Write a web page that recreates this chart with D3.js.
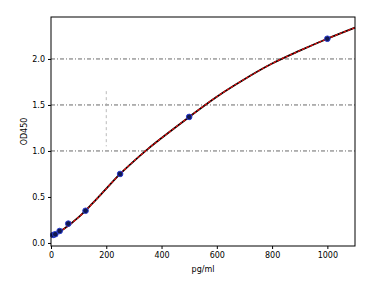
<!DOCTYPE html>
<html>
<head>
<meta charset="utf-8">
<script src="https://cdn.jsdelivr.net/npm/d3@7"></script>
<style>
  body { margin: 0; background: #fff; }
  text { font-family: "DejaVu Sans", sans-serif; }
</style>
</head>
<body>
<div id="chart"></div>
<script>
// standards (pg/ml) and measured OD450
const stdConc = [7.8, 15.6, 31.25, 62.5, 125, 250, 500, 1000];
const stdOD = [0.087, 0.095, 0.13, 0.21, 0.35, 0.75, 1.37, 2.22];

// fitted curve
const fitConc = [0, 50, 100, 150, 200, 250, 300, 350, 400, 500, 600, 700, 800, 900, 1000, 1100];
const fitOD = [0.07, 0.16, 0.28, 0.43, 0.59, 0.75, 0.89, 1.02, 1.14, 1.37, 1.59, 1.78, 1.95, 2.09, 2.22, 2.34];

const xTicks = [0, 200, 400, 600, 800, 1000];
const yTicks = [0.0, 0.5, 1.0, 1.5, 2.0];
const gridTicks = [1.0, 1.5, 2.0];

const width = 389;
const height = 288;
const margin = { top: 17, right: 34, bottom: 42, left: 51 };

const svg = d3.select('#chart')
    .append('svg')
    .attr('width', width)
    .attr('height', height);

const xScale = d3.scaleLinear()
    .domain([0, 1100])
    .range([margin.left, width - margin.right]);

const yScale = d3.scaleLinear()
    .domain([-0.033, 2.456])
    .range([height - margin.bottom, margin.top]);

// dash-dot grid lines
svg.append('g')
    .selectAll('line')
    .data(gridTicks)
    .enter()
    .append('line')
    .attr('x1', margin.left)
    .attr('x2', width - margin.right)
    .attr('y1', d => yScale(d))
    .attr('y2', d => yScale(d))
    .attr('stroke', '#444')
    .attr('stroke-width', 0.8)
    .attr('stroke-dasharray', '4,2,1,2');

// faint vertical mark near x = 200
svg.append('line')
    .attr('x1', xScale(200))
    .attr('x2', xScale(200))
    .attr('y1', yScale(1.65))
    .attr('y2', yScale(1.05))
    .attr('stroke', '#aaa')
    .attr('stroke-width', 0.8)
    .attr('stroke-dasharray', '3,3');

const line = d3.line()
    .x((d, i) => xScale(fitConc[i]))
    .y(d => yScale(d))
    .curve(d3.curveCatmullRom);

svg.append('path')
    .datum(fitOD)
    .attr('d', line)
    .attr('fill', 'none')
    .attr('stroke', '#000')
    .attr('stroke-width', 1.8);

svg.append('path')
    .datum(fitOD)
    .attr('d', line)
    .attr('fill', 'none')
    .attr('stroke', '#e01010')
    .attr('stroke-width', 1.3)
    .attr('stroke-dasharray', '3,1.5');

svg.append('g')
    .selectAll('circle')
    .data(stdOD)
    .enter()
    .append('circle')
    .attr('cx', (d, i) => xScale(stdConc[i]))
    .attr('cy', d => yScale(d))
    .attr('r', 2.8)
    .attr('fill', '#101850')
    .attr('stroke', '#2a3cd0')
    .attr('stroke-width', 1);

// axes
const xAxis = d3.axisBottom(xScale)
    .tickValues(xTicks)
    .tickSize(3)
    .tickFormat(d3.format('d'));
const yAxis = d3.axisLeft(yScale)
    .tickValues(yTicks)
    .tickSize(3)
    .tickFormat(d3.format('.1f'));

const gx = svg.append('g')
    .attr('transform', 'translate(0,' + (height - margin.bottom) + ')')
    .call(xAxis);
const gy = svg.append('g')
    .attr('transform', 'translate(' + margin.left + ',0)')
    .call(yAxis);

[gx, gy].forEach(g => {
    g.select('.domain').remove();
    g.selectAll('text').attr('font-size', 8).attr('fill', '#000')
        .style('font-family', '"DejaVu Sans", sans-serif');
});

// frame
svg.append('rect')
    .attr('x', margin.left)
    .attr('y', margin.top)
    .attr('width', width - margin.left - margin.right)
    .attr('height', height - margin.top - margin.bottom)
    .attr('fill', 'none')
    .attr('stroke', '#000')
    .attr('stroke-width', 1);

svg.append('text')
    .attr('x', (margin.left + width - margin.right) / 2)
    .attr('y', 272)
    .attr('text-anchor', 'middle')
    .attr('font-size', 8)
    .text('pg/ml');

svg.append('text')
    .attr('transform', 'translate(27,' + ((margin.top + height - margin.bottom) / 2) + ') rotate(-90)')
    .attr('text-anchor', 'middle')
    .attr('font-size', 8)
    .text('OD450');
</script>
</body>
</html>
